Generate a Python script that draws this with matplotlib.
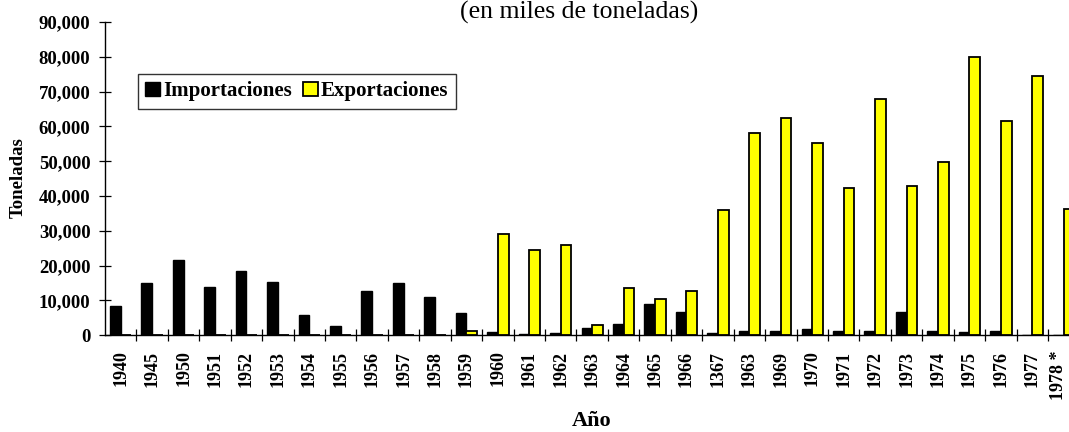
import matplotlib
matplotlib.use("Agg")
import matplotlib.pyplot as plt
import matplotlib.transforms as mtransforms
import numpy as np
from matplotlib.ticker import FuncFormatter, FixedLocator

plt.rcParams['font.family'] = ['Liberation Serif', 'DejaVu Serif']

categories = ['1940', '1945', '1950', '1951', '1952', '1953', '1954', '1955',
              '1956', '1957', '1958', '1959', '1960', '1961', '1962', '1963',
              '1964', '1965', '1966', '1367', '1963', '1969', '1970', '1971',
              '1972', '1973', '1974', '1975', '1976', '1977', '1978 *']
importaciones = [8400, 15100, 21500, 13900, 18400, 15300, 5900, 2600,
                 12600, 14900, 11000, 6300, 900, 500, 700, 2000,
                 3200, 9000, 6700, 600, 1100, 1100, 1700, 1100,
                 1100, 6800, 1100, 950, 1100, 0, 0]
exportaciones = [0, 0, 0, 0, 0, 0, 0, 0,
                 0, 0, 0, 1100, 29000, 24500, 26000, 2900,
                 13700, 10500, 12600, 35900, 58200, 62400, 55200, 42200,
                 67800, 42800, 49700, 80000, 61500, 74600, 36200]
y_ticks = [0, 10000, 20000, 30000, 40000, 50000, 60000, 70000, 80000, 90000]

W, H = 1069, 432
fig = plt.figure(figsize=(W / 100, H / 100), dpi=100)
left, right, top, bottom = 105, 1079.4, 22, 335.3
ax = fig.add_axes([left / W, (H - bottom) / H, (right - left) / W, (bottom - top) / H])

x = np.arange(len(categories))
w = 0.34
ax.bar(x - w / 2, importaciones, width=w, color='black', edgecolor='black',
       linewidth=1.0, label='Importaciones', zorder=3)
ax.bar(x + w / 2, exportaciones, width=w, color='#FFFF00', edgecolor='black',
       linewidth=1.3, label='Exportaciones', zorder=3)

ax.set_xlim(-0.5, len(categories) - 0.5)
ax.set_ylim(0, 90000)
for s in ['top', 'right']:
    ax.spines[s].set_visible(False)
for s in ['left', 'bottom']:
    ax.spines[s].set_linewidth(1.0)
    ax.spines[s].set_color('black')

ax.set_yticks(y_ticks)
ax.yaxis.set_major_formatter(FuncFormatter(lambda v, p: f'{int(v):,}'))
ax.tick_params(axis='y', direction='inout', length=8, width=0.9, pad=6.5,
               labelsize=13.5)
for lab in ax.get_yticklabels():
    lab.set_fontweight('bold')

ax.set_xticks(x)
xlabels = ax.set_xticklabels(categories, rotation=90, fontsize=13, fontweight='bold')
ax.tick_params(axis='x', which='major', length=0, pad=11)
ax.xaxis.set_minor_locator(FixedLocator(np.arange(len(categories)) + 0.5))
ax.tick_params(axis='x', which='minor', direction='inout', length=8.6, width=0.9)
# keep the last (partly off-figure) label inside the picture
last = xlabels[-1]
last.set_transform(last.get_transform() +
                   mtransforms.ScaledTranslation(-5 / 100, 0, fig.dpi_scale_trans))

fig.text(18 / W, 1 - 178 / H, 'Toneladas', rotation=90, ha='center', va='center',
         fontsize=13.5, fontweight='bold')
fig.text(592 / W, 1 / H, 'Año', ha='center', va='bottom',
         fontsize=16, fontweight='bold')
fig.text(579 / W, 1 - 1 / H, '(en miles de toneladas)', ha='center',
         va='top', fontsize=18.5)

leg = fig.legend(loc='upper left', bbox_to_anchor=(138 / W, 1 - 74 / H),
                 ncol=2, frameon=True, fancybox=False, borderaxespad=0,
                 prop={'weight': 'bold', 'size': 15}, handlelength=0.72,
                 handleheight=0.66, handletextpad=0.15, columnspacing=0.5,
                 borderpad=0.35)
leg.get_frame().set_edgecolor('black')
leg.get_frame().set_linewidth(1.0)

fig.savefig('out.png', dpi=100)
